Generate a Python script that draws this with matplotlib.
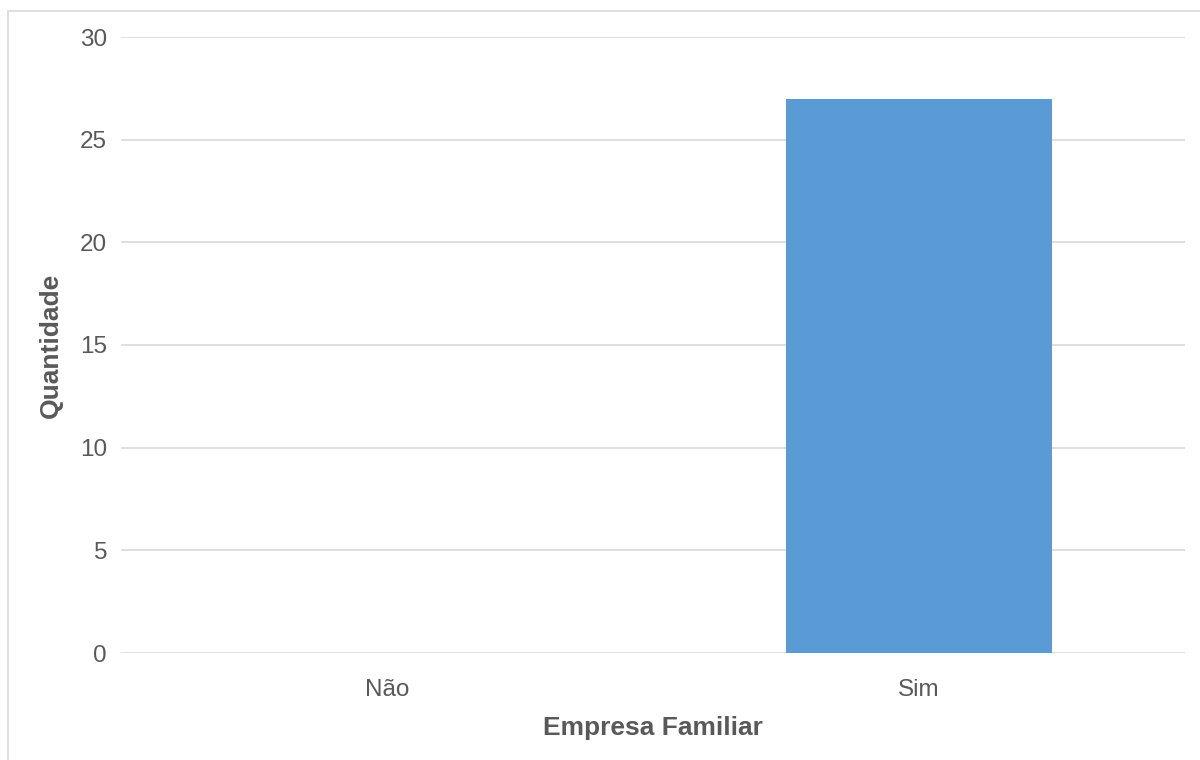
import matplotlib.pyplot as plt
from matplotlib.patches import Rectangle

categories = ["Não", "Sim"]
values = [0, 27]
y_ticks = [0, 5, 10, 15, 20, 25, 30]

plt.rcParams['font.family'] = ['Liberation Sans', 'DejaVu Sans']

fig = plt.figure(figsize=(12, 7.6), dpi=100)
ax = fig.add_axes([121 / 1200, 1 - 653 / 760, (1185 - 121) / 1200, (653 - 37) / 760])

# light frame around the chart (left and top edges visible)
fig.patches.append(Rectangle((8 / 1200, -0.1), 1.2, 1 - 11 / 760 + 0.1,
                             transform=fig.transFigure, fill=False,
                             edgecolor='#d9d9d9', linewidth=1.2))

ax.bar(range(len(categories)), values, width=0.5, color='#5b9bd5', zorder=3)
ax.set_xlim(-0.5, len(categories) - 0.5)
ax.set_ylim(0, 30)
ax.set_yticks(y_ticks)
ax.set_xticks(range(len(categories)))
ax.set_xticklabels(categories)

ax.grid(axis='y', color='#d9d9d9', linewidth=1.2, zorder=0)
for s in ax.spines.values():
    s.set_visible(False)
ax.tick_params(axis='both', length=0, labelsize=17.5, labelcolor='#595959')
ax.tick_params(axis='y', pad=10)
ax.tick_params(axis='x', pad=19)

ax.set_xlabel("Empresa Familiar", fontsize=19, fontweight='bold', color='#595959')
ax.set_ylabel("Quantidade", fontsize=19, fontweight='bold', color='#595959')
ax.xaxis.set_label_coords(0.5, -0.102)
ax.yaxis.set_label_coords(-0.055, 0.5)

fig.savefig("out.png", dpi=100)
